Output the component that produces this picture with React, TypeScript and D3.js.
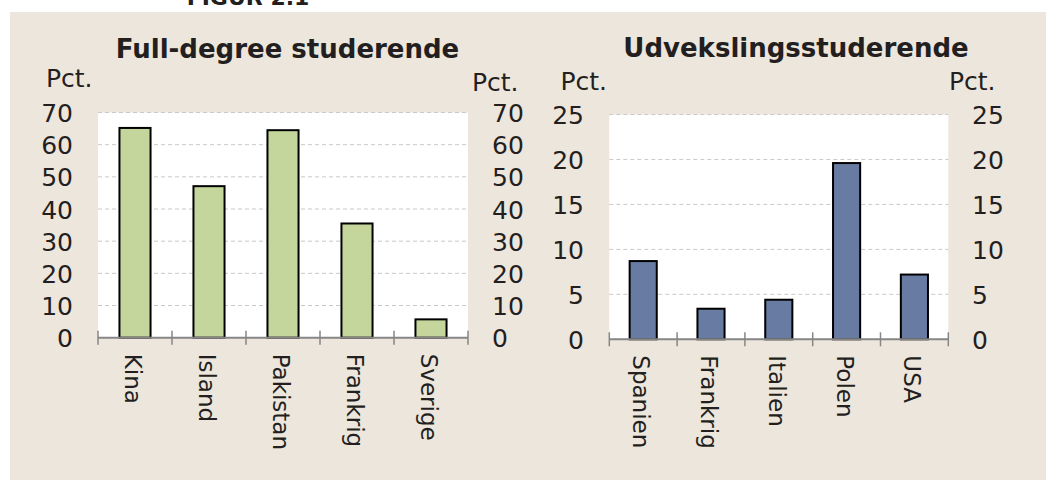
import * as d3 from "d3";

const fullCats = ["Kina", "Island", "Pakistan", "Frankrig", "Sverige"];
const fullVals = [65.2, 47.1, 64.5, 35.5, 5.7];
const fullTicks = [0, 10, 20, 30, 40, 50, 60, 70];

const exCats = ["Spanien", "Frankrig", "Italien", "Polen", "USA"];
const exVals = [8.7, 3.4, 4.4, 19.6, 7.2];
const exTicks = [0, 5, 10, 15, 20, 25];

const FONT = "Verdana, 'DejaVu Sans', sans-serif";
const INK = "#231f20";
const BG = "#ede6dd";

type PanelProps = {
  title: string;
  cats: string[];
  vals: number[];
  ticks: number[];
  fill: string;
  x0: number;
  x1: number;
  yTop: number;
  yBot: number;
  pad: number;
  leftLabelX: number;
  rightLabelX: number;
  pctLeft: [number, number];
  pctRight: [number, number];
  titleX: number;
  titleY: number;
};

function Panel(p: PanelProps) {
  const x = d3
    .scaleBand()
    .domain(p.cats)
    .range([p.x0, p.x1])
    .paddingInner(p.pad)
    .paddingOuter(p.pad / 2);
  const y = d3
    .scaleLinear()
    .domain([0, d3.max(p.ticks) as number])
    .range([p.yBot, p.yTop]);
  const step = x.step();
  const gap = (step - x.bandwidth()) / 2;
  // tick marks sit between categories
  const bounds = p.cats.map((c) => (x(c) as number) - gap).concat([p.x1]);

  return (
    <g fontFamily={FONT} fill={INK}>
      <text x={p.titleX} y={p.titleY} textAnchor="middle" fontWeight="bold" fontSize={26}>
        {p.title}
      </text>
      <text x={p.pctLeft[0]} y={p.pctLeft[1]} fontSize={25}>Pct.</text>
      <text x={p.pctRight[0]} y={p.pctRight[1]} fontSize={25}>Pct.</text>

      <rect x={p.x0} y={p.yTop} width={p.x1 - p.x0} height={p.yBot - p.yTop} fill="#fff" />
      {p.ticks
        .filter((t) => t > 0)
        .map((t) => (
          <line
            key={"g" + t}
            x1={p.x0}
            x2={p.x1}
            y1={y(t)}
            y2={y(t)}
            stroke="#c9c9c9"
            strokeWidth={1}
            strokeDasharray="4,3"
          />
        ))}

      {p.cats.map((c, i) => (
        <rect
          key={"b" + c}
          x={x(c)}
          y={y(p.vals[i])}
          width={x.bandwidth()}
          height={y(0) - y(p.vals[i])}
          fill={p.fill}
          stroke="#000"
          strokeWidth={2}
        />
      ))}

      <line x1={p.x0} x2={p.x1} y1={y(0)} y2={y(0)} stroke="#868686" strokeWidth={2} />
      {bounds.map((bx, i) => (
        <line key={"t" + i} x1={bx} x2={bx} y1={y(0) - 7} y2={y(0) + 7} stroke="#868686" strokeWidth={1.5} />
      ))}

      {p.ticks.map((t) => (
        <g key={"l" + t} fontSize={25}>
          <text x={p.leftLabelX} y={y(t) + 1} textAnchor="end" dominantBaseline="central">
            {t}
          </text>
          <text x={p.rightLabelX} y={y(t) + 1} textAnchor="start" dominantBaseline="central">
            {t}
          </text>
        </g>
      ))}

      {p.cats.map((c) => {
        const cx = (x(c) as number) + x.bandwidth() / 2 - 2;
        return (
          <text
            key={"c" + c}
            transform={`translate(${cx},${y(0) + 16}) rotate(90)`}
            fontSize={23}
            dominantBaseline="central"
          >
            {c}
          </text>
        );
      })}
    </g>
  );
}

export default function App() {
  return (
    <svg
      width={1046}
      height={480}
      style={{ position: "absolute", left: 0, top: 0, display: "block", background: "#fff" }}
    >
      <text x={248} y={5} textAnchor="middle" fontFamily={FONT} fontWeight="bold" fontSize={22} fill={INK}>
        FIGUR 2.1
      </text>
      <rect x={10} y={12} width={1036} height={468} fill={BG} />
      <Panel
        title="Full-degree studerende"
        cats={fullCats}
        vals={fullVals}
        ticks={fullTicks}
        fill="#c4d69b"
        x0={98}
        x1={468}
        yTop={112.5}
        yBot={337.7}
        pad={0.58}
        leftLabelX={73}
        rightLabelX={492}
        pctLeft={[46, 86.5]}
        pctRight={[472, 90.5]}
        titleX={287.5}
        titleY={58.3}
      />
      <Panel
        title="Udvekslingsstuderende"
        cats={exCats}
        vals={exVals}
        ticks={exTicks}
        fill="#687ba3"
        x0={609.3}
        x1={948.3}
        yTop={114.5}
        yBot={339.3}
        pad={0.6}
        leftLabelX={584}
        rightLabelX={972}
        pctLeft={[560.5, 90]}
        pctRight={[949, 90]}
        titleX={796}
        titleY={57}
      />
    </svg>
  );
}
